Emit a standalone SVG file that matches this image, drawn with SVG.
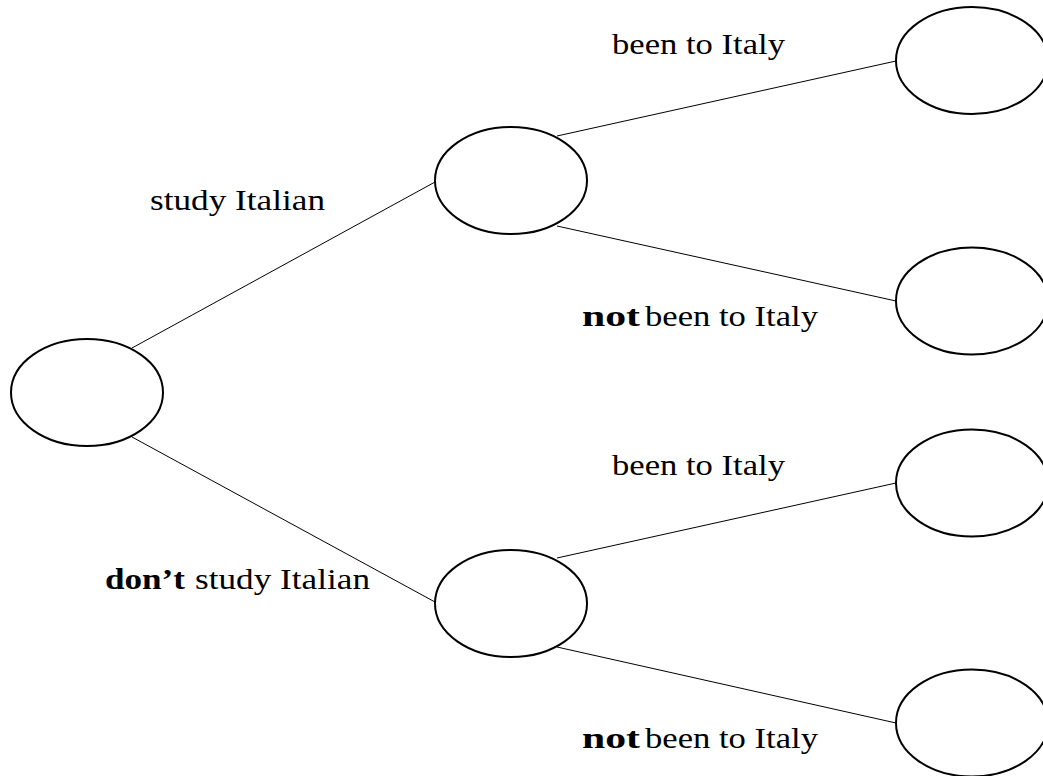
<svg xmlns="http://www.w3.org/2000/svg" width="1043" height="776" viewBox="0 0 1043 776">
<style>
.node{fill:#fff;stroke:#000;stroke-width:2}
.edge{stroke:#000;stroke-width:1;fill:none}
.lbl{font-family:'Liberation Serif','DejaVu Serif',serif;font-size:29px;fill:#000}
.b{font-weight:bold}
</style>
<rect width="1043" height="776" fill="#fff"/>
<g id="connectors">
<line class="edge" x1="132" y1="348" x2="435" y2="182"/>
<line class="edge" x1="132" y1="437" x2="435" y2="602"/>
<line class="edge" x1="557" y1="136" x2="896" y2="61"/>
<line class="edge" x1="557" y1="226" x2="896" y2="301"/>
<line class="edge" x1="557" y1="558" x2="896" y2="483"/>
<line class="edge" x1="557" y1="647" x2="896" y2="723"/>
</g>
<g id="root"><ellipse class="node" cx="87" cy="392.5" rx="76" ry="53.5"/></g>
<g id="study"><ellipse class="node" cx="511" cy="180.5" rx="76" ry="53.5"/></g>
<g id="dontstudy"><ellipse class="node" cx="511" cy="603.5" rx="76" ry="53.5"/></g>
<g id="study-been"><ellipse class="node" cx="972" cy="60.5" rx="76" ry="53.5"/></g>
<g id="study-notbeen"><ellipse class="node" cx="972" cy="301" rx="76" ry="53.5"/></g>
<g id="dontstudy-been"><ellipse class="node" cx="972" cy="483" rx="76" ry="53.5"/></g>
<g id="dontstudy-notbeen"><ellipse class="node" cx="972" cy="723" rx="76" ry="53.5"/></g>
<g id="labels" font-family="Liberation Serif, DejaVu Serif, serif">
<text class="lbl" x="612" y="54" textLength="173" lengthAdjust="spacingAndGlyphs">been to Italy</text>
<text class="lbl" x="150" y="210" textLength="175" lengthAdjust="spacingAndGlyphs">study Italian</text>
<text class="lbl b" x="582" y="326" textLength="58" lengthAdjust="spacingAndGlyphs">not</text>
<text class="lbl" x="645" y="326" textLength="173" lengthAdjust="spacingAndGlyphs">been to Italy</text>
<text class="lbl" x="612" y="475" textLength="173" lengthAdjust="spacingAndGlyphs">been to Italy</text>
<text class="lbl b" x="105" y="589" textLength="80" lengthAdjust="spacingAndGlyphs">don’t</text>
<text class="lbl" x="195" y="589" textLength="175" lengthAdjust="spacingAndGlyphs">study Italian</text>
<text class="lbl b" x="582" y="748" textLength="58" lengthAdjust="spacingAndGlyphs">not</text>
<text class="lbl" x="645" y="748" textLength="173" lengthAdjust="spacingAndGlyphs">been to Italy</text>
</g>
</svg>
